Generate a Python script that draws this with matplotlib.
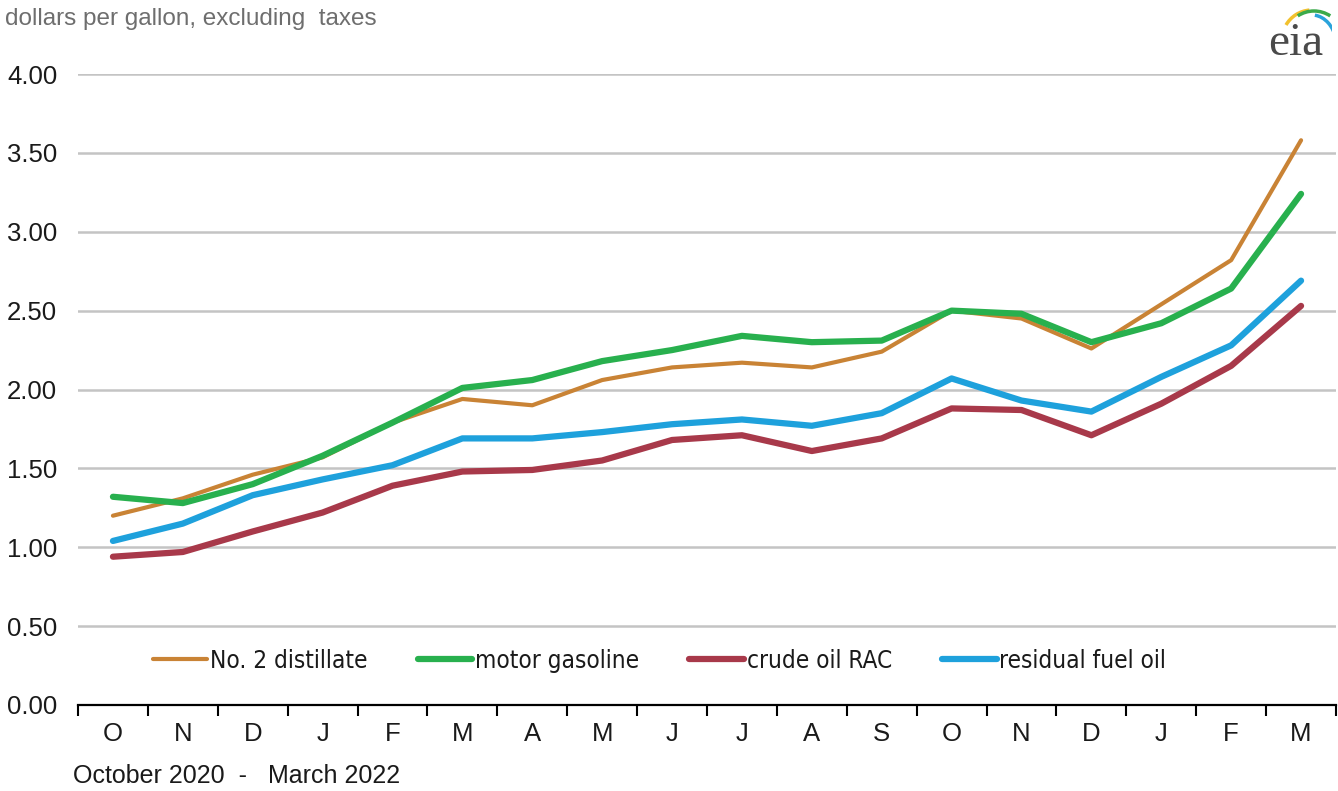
import matplotlib
matplotlib.use("Agg")
import matplotlib.pyplot as plt
import numpy as np
from matplotlib.patches import Arc

months = ["O", "N", "D", "J", "F", "M", "A", "M", "J", "J", "A", "S", "O", "N", "D", "J", "F", "M"]
distillate = [1.20, 1.31, 1.46, 1.57, 1.79, 1.94, 1.90, 2.06, 2.14, 2.17, 2.14, 2.24, 2.50, 2.45, 2.26, 2.54, 2.82, 3.58]
gasoline = [1.32, 1.28, 1.40, 1.58, 1.79, 2.01, 2.06, 2.18, 2.25, 2.34, 2.30, 2.31, 2.50, 2.48, 2.30, 2.42, 2.64, 3.24]
crude = [0.94, 0.97, 1.10, 1.22, 1.39, 1.48, 1.49, 1.55, 1.68, 1.71, 1.61, 1.69, 1.88, 1.87, 1.71, 1.91, 2.15, 2.53]
residual = [1.04, 1.15, 1.33, 1.43, 1.52, 1.69, 1.69, 1.73, 1.78, 1.81, 1.77, 1.85, 2.07, 1.93, 1.86, 2.08, 2.28, 2.69]
yticks = [0.0, 0.5, 1.0, 1.5, 2.0, 2.5, 3.0, 3.5, 4.0]

plt.rcParams['font.family'] = ['Liberation Sans', 'DejaVu Sans']

W, H = 1338, 791
fig = plt.figure(figsize=(W / 100, H / 100), dpi=100)
ax = fig.add_axes([78 / W, 1 - 705 / H, (1336 - 78) / W, (705 - 74) / H])

x = np.arange(len(months))
ax.plot(x, distillate, color="#C98335", lw=3.0, label="No. 2 distillate", solid_capstyle="round", zorder=3)
ax.plot(x, gasoline, color="#28B04E", lw=4.5, label="motor gasoline", solid_capstyle="round", zorder=3)
ax.plot(x, crude, color="#A8394A", lw=4.5, label="crude oil RAC", solid_capstyle="round", zorder=3)
ax.plot(x, residual, color="#1EA1DC", lw=4.5, label="residual fuel oil", solid_capstyle="round", zorder=3)

ax.set_xlim(-0.5, len(months) - 0.5)
ax.set_ylim(0, 4.0)
ax.set_yticks(yticks)
ax.set_yticklabels([f"{v:.2f}" for v in yticks], fontsize=18.5, color="#1a1a1a")
ax.yaxis.grid(True, color="#C4C4C4", lw=1.8)
ax.set_axisbelow(True)
ax.tick_params(axis="y", length=0, pad=15)

ax.set_xticks(x)
ax.set_xticklabels(months, fontsize=18.5, color="#1a1a1a")
ax.set_xticks(np.arange(-0.5, len(months) + 0.5, 1), minor=True)
ax.tick_params(axis="x", which="major", length=0, pad=12)
ax.tick_params(axis="x", which="minor", length=8, width=1.5, color="black", direction="out")

for s in ["top", "right", "left"]:
    ax.spines[s].set_visible(False)
ax.spines["bottom"].set_linewidth(1.6)
ax.spines["bottom"].set_color("black")

leg_font = {"family": ["DejaVu Sans"], "stretch": "condensed", "size": 17.5}
leg = ax.legend(loc="center left", bbox_to_anchor=(0.042, 0.07), ncol=4, frameon=False,
                prop=leg_font, handlelength=2.25, handletextpad=0.12, columnspacing=2.05)
for t in leg.get_texts():
    t.set_color("#1a1a1a")

fig.text(5 / W, 1 - 19 / H, "dollars per gallon, excluding  taxes", fontsize=17.5, color="#6e6e6e",
         ha="left", va="center")
fig.text(73 / W, 1 - 776 / H, "October 2020  -   March 2022", fontsize=18, color="#1a1a1a",
         ha="left", va="center")

# eia logo
fig.text(1296 / W, 1 - 44 / H, "eia", fontsize=34, family=["Liberation Serif", "DejaVu Serif"],
         color="#4a4a4a", ha="center", va="center")
lax = fig.add_axes([1262 / W, 1 - 40 / H, 70 / W, 38 / H])
lax.set_xlim(0, 70)
lax.set_ylim(0, 38)
lax.axis("off")
lax.add_patch(Arc((50, 0), 60, 60, theta1=95, theta2=150, color="#F2C12E", lw=2.5))
lax.add_patch(Arc((52, -4), 62, 66, theta1=60, theta2=120, color="#3BAA4A", lw=2.5))
lax.add_patch(Arc((50, -8), 50, 66, theta1=20, theta2=85, color="#2AA3DB", lw=2.5))

fig.savefig("out.png", dpi=100, facecolor="white")
